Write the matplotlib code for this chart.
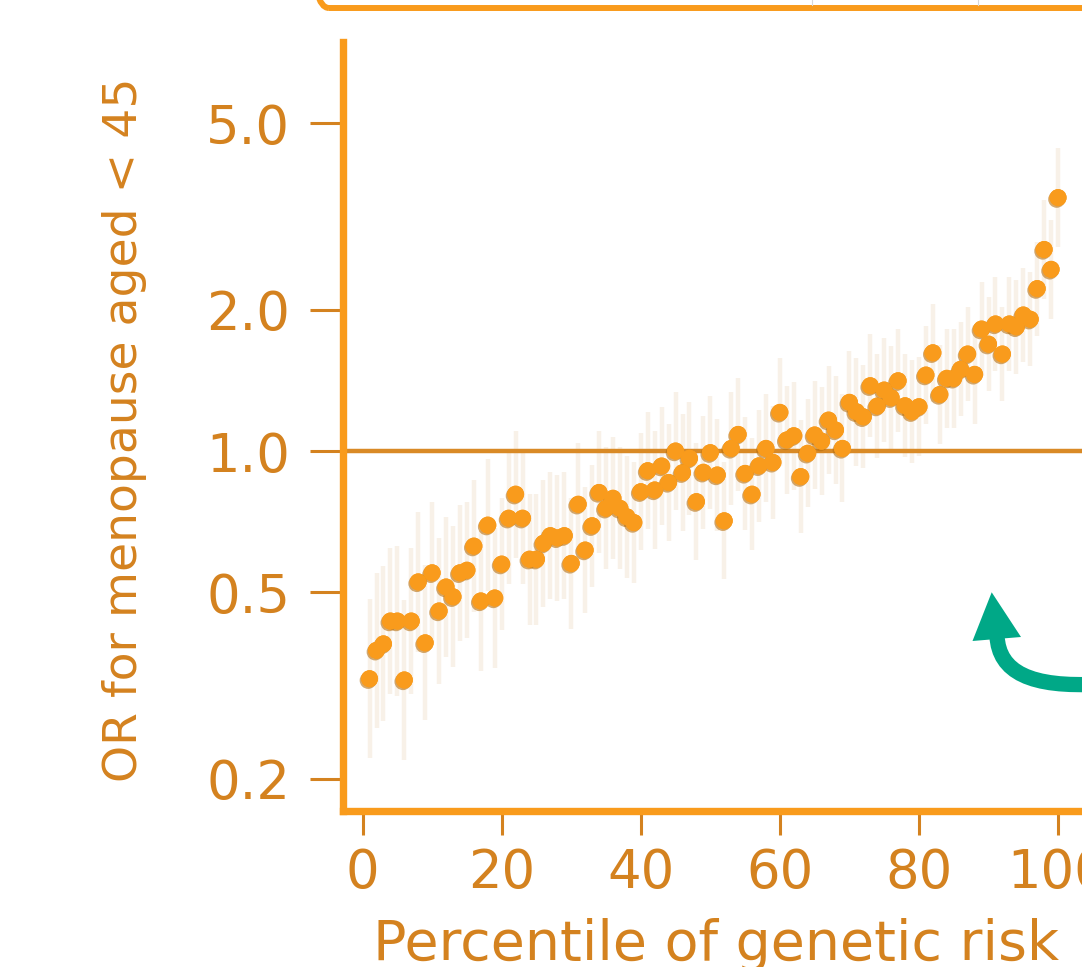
import matplotlib
matplotlib.use('Agg')
import matplotlib.pyplot as plt
import matplotlib.patheffects as pe
from matplotlib.patches import FancyBboxPatch, Polygon, PathPatch
from matplotlib.path import Path
from matplotlib.transforms import IdentityTransform
from matplotlib.ticker import NullLocator
import numpy as np

plt.rcParams['font.family'] = ['DejaVu Sans']

W, H = 1082, 967

# percentile of genetic risk (1..100)
percentile = list(range(1, 101))

# odds ratio for menopause before 45
odds_ratio = [
    0.327, 0.376, 0.388, 0.434, 0.434, 0.325, 0.434, 0.526, 0.390, 0.550,
    0.456, 0.513, 0.489, 0.550, 0.557, 0.627, 0.479, 0.695, 0.486, 0.574,
    0.719, 0.809, 0.719, 0.588, 0.588, 0.636, 0.660, 0.653, 0.660, 0.576,
    0.770, 0.615, 0.693, 0.816, 0.755, 0.793, 0.755, 0.724, 0.704, 0.819,
    0.908, 0.826, 0.929, 0.857, 1.000, 0.899, 0.965, 0.780, 0.901, 0.992,
    0.889, 0.710, 1.013, 1.085, 0.896, 0.809, 0.930, 1.013, 0.946, 1.209,
    1.056, 1.078, 0.882, 0.989, 1.082, 1.050, 1.164, 1.109, 1.013, 1.270,
    1.213, 1.183, 1.378, 1.247, 1.349, 1.299, 1.412, 1.249, 1.213, 1.243,
    1.452, 1.620, 1.320, 1.429, 1.429, 1.494, 1.610, 1.457, 1.820, 1.690,
    1.866, 1.610, 1.866, 1.840, 1.950, 1.910, 2.220, 2.690, 2.440, 3.470,
]

# half width of the 95% CI in log10 units (estimated from the faint bars)
ci_half = [
    0.170, 0.165, 0.165, 0.155, 0.160, 0.170, 0.155, 0.150, 0.165, 0.150,
    0.155, 0.150, 0.150, 0.145, 0.145, 0.140, 0.150, 0.140, 0.150, 0.140,
    0.140, 0.135, 0.140, 0.140, 0.140, 0.135, 0.135, 0.135, 0.135, 0.140,
    0.130, 0.135, 0.130, 0.130, 0.130, 0.130, 0.130, 0.130, 0.130, 0.125,
    0.125, 0.125, 0.125, 0.125, 0.125, 0.125, 0.120, 0.125, 0.120, 0.120,
    0.120, 0.125, 0.120, 0.120, 0.120, 0.120, 0.120, 0.115, 0.120, 0.115,
    0.115, 0.115, 0.120, 0.115, 0.115, 0.115, 0.115, 0.115, 0.115, 0.110,
    0.115, 0.110, 0.110, 0.110, 0.110, 0.110, 0.110, 0.110, 0.110, 0.105,
    0.105, 0.105, 0.105, 0.105, 0.105, 0.100, 0.100, 0.105, 0.100, 0.100,
    0.100, 0.100, 0.100, 0.100, 0.100, 0.100, 0.100, 0.105, 0.105, 0.105,
]

ytick_vals = [0.2, 0.5, 1.0, 2.0, 5.0]
ytick_labels = ['0.2', '0.5', '1.0', '2.0', '5.0']
xtick_vals = [0, 20, 40, 60, 80, 100]

orange = '#f99b1c'
text_col = '#d4821f'
ref_col = '#d98a26'
bar_col = '#f8f1e8'
green = '#00a887'

odds = np.array(odds_ratio)
half = np.array(ci_half)
lo = odds / 10 ** half
hi = odds * 10 ** half

fig = plt.figure(figsize=(W / 100, H / 100), dpi=100)
ax = fig.add_axes([343 / W, 1 - 811 / H, 1 - 343 / W, (811 - 42) / H])
ax.set_yscale('log')

ax.vlines(percentile, lo, hi, color=bar_col, lw=3.2, zorder=1)
ax.axhline(1.0, color=ref_col, lw=3.2, zorder=2)
ax.scatter(percentile, odds, s=150, color=orange, linewidths=0, zorder=3,
           path_effects=[pe.withSimplePatchShadow(offset=(-1, -1.2),
                                                  shadow_rgbFace='#b8700f',
                                                  alpha=0.6),
                         pe.Normal()])

ax.set_xlim(-2.82, 103.44)
ax.set_ylim(0.1708, 7.45)
ax.set_yticks(ytick_vals)
ax.set_yticklabels(ytick_labels)
ax.yaxis.set_minor_locator(NullLocator())
ax.set_xticks(xtick_vals)

for s in ['top', 'right']:
    ax.spines[s].set_visible(False)
for s in ['left', 'bottom']:
    ax.spines[s].set_color(orange)
    ax.spines[s].set_linewidth(5.3)
    ax.spines[s].set_capstyle('projecting')

ax.tick_params(axis='y', direction='out', length=24, width=2.2, color=text_col,
               pad=14, labelsize=38, labelcolor=text_col)
ax.tick_params(axis='x', direction='out', length=17, width=2.2, color=text_col,
               pad=9, labelsize=38, labelcolor=text_col)

fig.text(716 / W, 1 - 960 / H, 'Percentile of genetic risk', color=text_col,
         fontsize=40, ha='center', va='baseline')
fig.text(125 / W, 1 - 430 / H, 'OR for menopause aged < 45', color=text_col,
         fontsize=34, ha='center', va='center', rotation=90)

# orange panel box cut off at the top
ident = IdentityTransform()
box = FancyBboxPatch((313, H - 8), 900, 80,
                     boxstyle='round,pad=0,rounding_size=16',
                     fc='none', ec=orange, lw=4.3, transform=ident)
fig.add_artist(box)
for gx in [812, 978]:
    fig.add_artist(plt.Line2D([gx, gx], [H - 5, H], color='#d8d8d8', lw=0.8,
                              transform=ident))

# green curved arrow
shaft = Path([(1100, H - 684), (1030, H - 688), (999, H - 672), (997, H - 636)],
             [Path.MOVETO, Path.CURVE4, Path.CURVE4, Path.CURVE4])
fig.add_artist(PathPatch(shaft, fc='none', ec=green, lw=11, capstyle='butt',
                         transform=ident))
fig.add_artist(Polygon([(991.7, H - 592.3), (972.5, H - 641), (1021, H - 637)],
                       closed=True, fc=green, ec='none', transform=ident))

fig.savefig('out.png', dpi=100)
